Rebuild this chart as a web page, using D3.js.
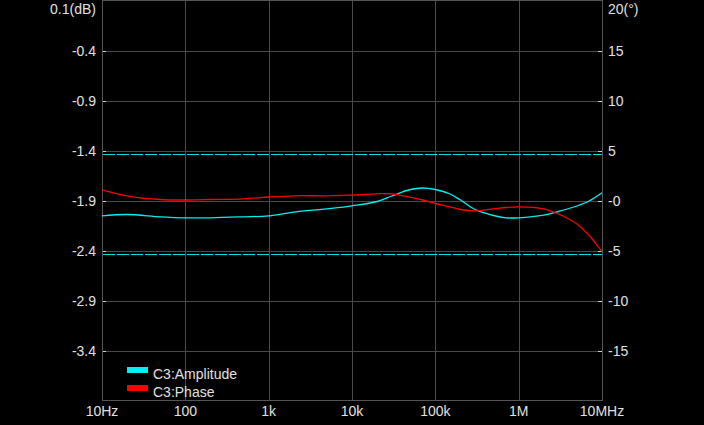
<!DOCTYPE html>
<html>
<head>
<meta charset="utf-8">
<script src="https://cdn.jsdelivr.net/npm/d3@7"></script>
<style>
  html, body { margin: 0; padding: 0; background: #000; }
  svg { display: block; }
  text { font-family: "Liberation Sans", Arial, sans-serif; fill: #e0e0e0; }
</style>
</head>
<body>
<div id="chart"></div>
<script>
/**
 * DATA
 * */
const freqs = [10, 20, 50, 100, 200, 500, 1e3, 2e3, 5e3, 1e4, 2e4, 3e4, 5e4, 7e4,
  1e5, 1.5e5, 2e5, 3e5, 5e5, 7e5, 1e6, 2e6, 3e6, 5e6, 7e6, 1e7];

const amplitude = [-2.053, -2.04, -2.063, -2.073, -2.073, -2.063, -2.053, -2.017, -1.983,
  -1.953, -1.91, -1.855, -1.79, -1.775, -1.79, -1.835, -1.895, -1.99, -2.05, -2.073,
  -2.073, -2.047, -2.01, -1.955, -1.905, -1.823];

const phase = [1.07, 0.47, 0.10, 0.05, 0.10, 0.17, 0.35, 0.47, 0.47, 0.53, 0.67, 0.67,
  0.33, 0.05, -0.30, -0.63, -0.90, -1.03, -0.83, -0.70, -0.63, -0.83, -1.35, -2.35,
  -3.50, -5.10];

const freqTicks = [10, 100, 1e3, 1e4, 1e5, 1e6, 1e7];
const freqLabels = ["10Hz", "100", "1k", "10k", "100k", "1M", "10MHz"];

const dbTicks = [0.1, -0.4, -0.9, -1.4, -1.9, -2.4, -2.9, -3.4];
const dbLabels = ["0.1(dB)", "-0.4", "-0.9", "-1.4", "-1.9", "-2.4", "-2.9", "-3.4"];

const degTicks = [20, 15, 10, 5, 0, -5, -10, -15];
const degLabels = ["20(°)", "15", "10", "5", "-0", "-5", "-10", "-15"];

// amplitude limit lines (dB)
const limits = [-1.433, -2.433];

const series = [
  { name: "C3:Amplitude", color: "#00f0f0", values: amplitude, axis: "db" },
  { name: "C3:Phase", color: "#ff0000", values: phase, axis: "deg" }
];

/**
 * CONSTANTS AND GLOBALS
 * */
const width = 704,
  height = 425,
  margin = { top: 0.5, bottom: 25, left: 102, right: 102 };

const svg = d3.select("#chart")
  .append("svg")
  .attr("width", width)
  .attr("height", height);

const x = d3.scaleLog()
  .domain([10, 1e7])
  .range([margin.left, width - margin.right]);

const yDb = d3.scaleLinear()
  .domain([0.1, -3.9])
  .range([margin.top, 400.5]);

const yDeg = d3.scaleLinear()
  .domain([20, -20])
  .range([margin.top, 400.5]);

const x0 = x.range()[0], x1 = x.range()[1];
const yTop = yDb.range()[0], yBot = yDb.range()[1];

// grid
svg.append("g")
  .selectAll("line")
  .data(freqTicks.slice(1, -1))
  .join("line")
  .attr("x1", d => Math.round(x(d)) + 0.5)
  .attr("x2", d => Math.round(x(d)) + 0.5)
  .attr("y1", yTop).attr("y2", yBot)
  .attr("stroke", "#4a4a4a");

svg.append("g")
  .selectAll("line")
  .data(dbTicks.slice(1))
  .join("line")
  .attr("x1", x0).attr("x2", x1)
  .attr("y1", d => Math.round(yDb(d)) + 0.5)
  .attr("y2", d => Math.round(yDb(d)) + 0.5)
  .attr("stroke", "#4a4a4a");

// frame
svg.append("rect")
  .attr("x", x0 + 0.5).attr("y", yTop)
  .attr("width", x1 - x0).attr("height", yBot - yTop)
  .attr("fill", "none")
  .attr("stroke", "#555");

// small ticks inside the frame
svg.append("g")
  .selectAll("line")
  .data(dbTicks.slice(1))
  .join("line")
  .attr("x1", x0 + 1).attr("x2", x0 + 4)
  .attr("y1", d => Math.round(yDb(d)) + 0.5)
  .attr("y2", d => Math.round(yDb(d)) + 0.5)
  .attr("stroke", "#d0d0d0");

svg.append("g")
  .selectAll("line")
  .data(degTicks.slice(1))
  .join("line")
  .attr("x1", x1 - 4).attr("x2", x1)
  .attr("y1", d => Math.round(yDeg(d)) + 0.5)
  .attr("y2", d => Math.round(yDeg(d)) + 0.5)
  .attr("stroke", "#d0d0d0");

// limit lines
svg.append("g")
  .selectAll("line")
  .data(limits)
  .join("line")
  .attr("x1", x0 + 1).attr("x2", x1)
  .attr("y1", d => Math.round(yDb(d)) + 0.5)
  .attr("y2", d => Math.round(yDb(d)) + 0.5)
  .attr("stroke", "#00e0e0")
  .attr("stroke-dasharray", "12,2");

// traces
const lineFor = s => d3.line()
  .x((d, i) => x(freqs[i]))
  .y(d => s.axis === "db" ? yDb(d) : yDeg(d))
  .curve(d3.curveCatmullRom.alpha(0.5));

svg.append("g")
  .selectAll("path")
  .data(series)
  .join("path")
  .attr("d", s => lineFor(s)(s.values))
  .attr("fill", "none")
  .attr("stroke", s => s.color)
  .attr("stroke-width", 1.3);

// axis labels
svg.append("g")
  .selectAll("text")
  .data(dbTicks)
  .join("text")
  .attr("x", 96)
  .attr("y", (d, i) => i === 0 ? 9 : yDb(d))
  .attr("dy", "0.36em")
  .attr("text-anchor", "end")
  .attr("font-size", 14)
  .text((d, i) => dbLabels[i]);

svg.append("g")
  .selectAll("text")
  .data(degTicks)
  .join("text")
  .attr("x", 608)
  .attr("y", (d, i) => i === 0 ? 9 : yDeg(d))
  .attr("dy", "0.36em")
  .attr("font-size", 14)
  .text((d, i) => degLabels[i]);

svg.append("g")
  .selectAll("text")
  .data(freqTicks)
  .join("text")
  .attr("x", d => x(d))
  .attr("y", 411)
  .attr("dy", "0.36em")
  .attr("text-anchor", "middle")
  .attr("font-size", 14)
  .text((d, i) => freqLabels[i]);

// legend
const legend = svg.append("g")
  .selectAll("g")
  .data(series)
  .join("g")
  .attr("transform", (d, i) => `translate(127, ${367 + i * 18})`);

legend.append("rect")
  .attr("width", 21).attr("height", 6)
  .attr("fill", d => d.color);

legend.append("text")
  .attr("x", 26)
  .attr("y", 11.5)
  .attr("font-size", 14)
  .text(d => d.name);
</script>
</body>
</html>
